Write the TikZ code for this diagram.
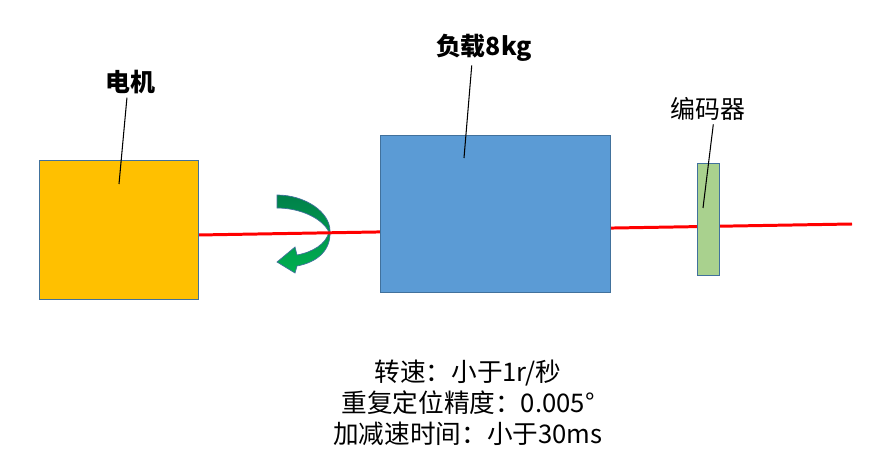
\documentclass[tikz,border=0pt]{standalone}
\usepackage{fontspec}
\setmainfont{Noto Sans CJK SC}
\definecolor{motorfill}{HTML}{FFC000}
\definecolor{loadfill}{HTML}{5B9BD5}
\definecolor{encfill}{HTML}{A9D18E}
\definecolor{boxline}{HTML}{41719C}
\definecolor{arrowtop}{HTML}{00804A}
\definecolor{arrowbot}{HTML}{00B050}
\begin{document}
\begin{tikzpicture}[x=0.02cm,y=-0.02cm,
        box/.style={draw=boxline,line width=0.5pt,inner sep=0pt},
        lbl/.style={inner sep=2pt,font=\fontsize{14.2pt}{17pt}\selectfont},
        leader/.style={draw=black,line width=0.6pt},
        shaft/.style={draw=red,line width=1.7pt}]
        \useasboundingbox (0,0) rectangle (886,476);

        \draw[draw=boxline,line width=0.4pt,top color=arrowtop,bottom color=arrowbot]
            (277,195) .. controls (305,195) and (330,212) .. (330,231)
            .. controls (331,250) and (318,262) .. (297,266)
            -- (295,273) -- (277,262) -- (295,247) -- (297,255)
            .. controls (313,252) and (326,244) .. (329,232)
            .. controls (322,218) and (300,208) .. (277,208) -- cycle;

        \coordinate (shaftL) at (198,235);
        \coordinate (shaftR) at (852,224);
        \draw[shaft] (shaftL) -- (shaftR);

        \node[box,fill=motorfill,minimum width=3.18cm,minimum height=2.78cm] (motor) at (118.5,229.5) {};
        \node[box,fill=loadfill,minimum width=4.6cm,minimum height=3.14cm] (load) at (495,213.5) {};
        \node[box,fill=encfill,minimum width=0.44cm,minimum height=2.24cm] (encoder) at (708,219) {};

        \node[lbl,font=\fontsize{14.2pt}{17pt}\selectfont\bfseries] (motorlbl) at (130,82) {电机};
        \node[lbl,font=\fontsize{14.2pt}{17pt}\selectfont\bfseries] (loadlbl) at (484,48) {负载8kg};
        \node[lbl] (enclbl) at (708,109) {编码器};

        \coordinate (motortip) at (119,184);
        \coordinate (loadtip) at (464,158);
        \coordinate (enctip) at (703,208);
        \draw[leader] (motorlbl.259) -- (motortip);
        \draw[leader] (loadlbl.235) -- (loadtip);
        \draw[leader] (enclbl.289) -- (enctip);

        \node[lbl,font=\fontsize{14.6pt}{17.6pt}\selectfont,align=center] (spec) at (468,403)
            {转速：小于1r/秒\\重复定位精度：0.005°\\加减速时间：小于30ms};
    \end{tikzpicture}
\end{document}
